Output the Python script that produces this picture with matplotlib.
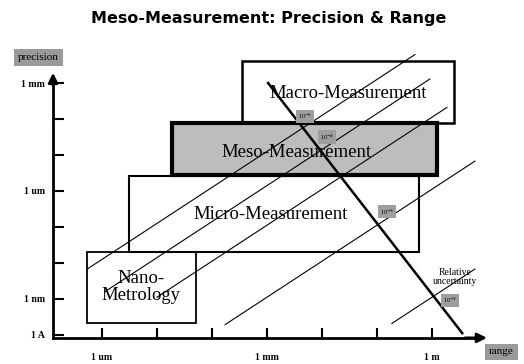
"""Meso-measurement precision vs. range diagram (log-log, decades of metres)."""

import matplotlib
matplotlib.use("Agg")
import matplotlib.pyplot as plt
from matplotlib.patches import Rectangle

# Axis ticks, in log10(metres).
xTicks = [-6, -5, -4, -3, -2, -1, 0]
xTickLabels = ["1 um", "", "", "1 mm", "", "", "1 m"]
yTicks = [-10, -9, -8, -7, -6, -5, -4, -3]
yTickLabels = ["1 A", "1 nm", "", "", "1 um", "", "", "1 mm"]

# Measurement regimes: (range lo, range hi, precision lo, precision hi) in decades.
regimeNames = ["Nano-\nMetrology", "Micro-Measurement", "Macro-Measurement", "Meso-Measurement"]
regimeRange = [(-6.27, -4.29), (-5.51, -0.24), (-3.45, 0.40), (-4.73, 0.09)]
regimePrecision = [(-9.67, -7.69), (-7.69, -5.58), (-4.11, -2.39), (-5.56, -4.11)]
regimeTextPos = [(-5.29, -8.67), (-2.93, -6.64), (-1.53, -3.28), (-2.47, -4.92)]

# Lines of constant relative uncertainty: precision = range - offset.
isoOffset = [1.9, 2.85, 3.95, 5.95, 8.95]
isoStart = [-6.25, -5.95, -5.0, -3.76, -0.73]
isoEnd = [-0.31, -0.04, 0.27, 0.78, 0.78]

# Heavy trend line.
trendRange = [-2.98, 0.55]
trendPrecision = [-3.0, -9.95]

# Small grey uncertainty tags.
tagText = ["10$^{-5}$", "10$^{-4}$", "10$^{-3}$", "10$^{-2}$"]
tagPos = [(-2.31, -3.92), (-1.91, -4.50), (-0.82, -6.58), (0.33, -9.03)]

serif = "Liberation Serif"

fig = plt.figure(figsize=(5.24, 3.64), dpi=100)
ax = fig.add_axes([0, 0, 1, 1])
ax.set_xlim(-7.8545, 1.6727)
ax.set_ylim(-10.806, -0.694)
ax.patch.set_alpha(0)

# Axes drawn as spines crossing at the origin, with arrow heads.
xOrigin, yOrigin = -6.89, -10.08
xTip, yTip = 1.05, -2.64
for side in ["top", "right"]:
    ax.spines[side].set_visible(False)
ax.spines["left"].set_position(("data", xOrigin))
ax.spines["bottom"].set_position(("data", yOrigin))
ax.spines["left"].set_bounds(yOrigin, yTip - 0.2)
ax.spines["bottom"].set_bounds(xOrigin, xTip - 0.2)
for side in ["left", "bottom"]:
    ax.spines[side].set_linewidth(2)
ax.annotate("", xy=(xOrigin, yTip), xytext=(xOrigin, yTip - 0.5),
            arrowprops=dict(arrowstyle="-|>", lw=2, color="k", mutation_scale=14))
ax.annotate("", xy=(xTip, yOrigin), xytext=(xTip - 0.5, yOrigin),
            arrowprops=dict(arrowstyle="-|>", lw=2, color="k", mutation_scale=14))

ax.set_xticks(xTicks)
ax.set_xticklabels(xTickLabels, fontfamily=serif, fontweight="bold", fontsize=7)
ax.set_yticks(yTicks)
ax.set_yticklabels(yTickLabels, fontfamily=serif, fontweight="bold", fontsize=7)
ax.tick_params(axis="x", direction="in", length=7, width=1.5, pad=11)
ax.tick_params(axis="y", direction="in", length=8, width=1.5, pad=6)

# Axis names in grey boxes.
boxStyle = dict(boxstyle="square,pad=0.35", facecolor="#9a9a9a", edgecolor="none")
ax.text(-7.16, -2.30, "precision", fontfamily=serif, fontsize=8, ha="center", va="center", bbox=boxStyle)
ax.text(1.26, -10.47, "range", fontfamily=serif, fontsize=8, ha="center", va="center", bbox=boxStyle)

# Regime boxes.
edgeWidths = [1.3, 1.5, 1.8, 3.0]
faceColors = ["white", "white", "white", "#bdbdbd"]
for i in range(len(regimeNames)):
    x0, x1 = regimeRange[i]
    y0, y1 = regimePrecision[i]
    ax.add_patch(Rectangle((x0, y0), x1 - x0, y1 - y0, facecolor=faceColors[i],
                           edgecolor="black", linewidth=edgeWidths[i], zorder=2 + i))
    ax.text(regimeTextPos[i][0], regimeTextPos[i][1], regimeNames[i], fontfamily=serif,
            fontsize=13.5, ha="center", va="center", linespacing=1.05, zorder=7)

# Iso-uncertainty lines and the trend line sit on top of everything.
for offset, u0, u1 in zip(isoOffset, isoStart, isoEnd):
    ax.plot([u0, u1], [u0 - offset, u1 - offset], color="black", lw=0.8, zorder=8)
ax.plot(trendRange, trendPrecision, color="black", lw=1.8, zorder=8)

tagStyle = dict(boxstyle="square,pad=0.3", facecolor="#9e9e9e", edgecolor="none")
for label, (u, v) in zip(tagText, tagPos):
    ax.text(u, v, label, fontfamily=serif, fontsize=4.5, ha="center", va="center", bbox=tagStyle, zorder=9)

ax.text(0.42, -8.39, "Relative\nuncertainty", fontfamily=serif, fontsize=7,
        ha="center", va="center", linespacing=1.1, zorder=9)

fig.text(0.512, 1 - 18 / 364, "Meso-Measurement: Precision & Range", fontsize=11.5,
         fontweight="bold", ha="center", va="center")

fig.savefig("out.png", dpi=100)
